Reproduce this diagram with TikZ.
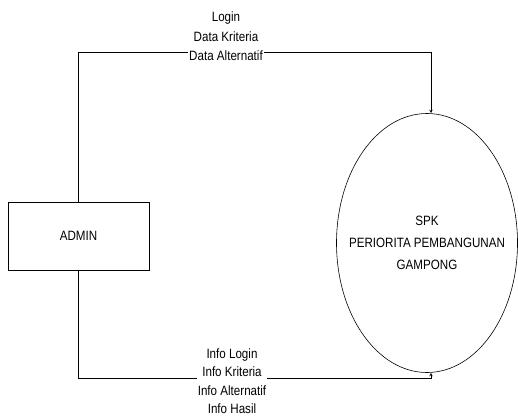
\documentclass[tikz,border=0pt]{standalone}
\usepackage{fontspec}
\setmainfont[FakeStretch=0.86]{Liberation Sans}
\usetikzlibrary{shapes.geometric, arrows}
\tikzstyle{entity} = [
    rectangle,
    minimum width=141pt,
    minimum height=68pt,
    draw=black
]
\tikzstyle{process} = [
    ellipse,
    minimum width=181pt,
    minimum height=259pt,
    inner sep=0pt,
    draw=black
]
\tikzstyle{flowlabel} = [
    fill=white,
    align=center,
    inner sep=1pt,
    font=\fontsize{13.5}{19.5}\selectfont
]
\tikzstyle{arrow} = [->,>=stealth]

\begin{document}
\begin{tikzpicture}[x=1pt, y=-1pt, line width=0.6pt, font=\fontsize{13.5}{15}\selectfont]
\useasboundingbox (0,0) rectangle (518,418);

\node (admin) [entity] at (78.5,236) {ADMIN};

\node (spk) [process] at (427,243) {};
\node (spktext) [align=center, font=\fontsize{13.5}{22}\selectfont] at (spk.center)
{SPK\\PERIORITA PEMBANGUNAN\\GAMPONG};

\coordinate (topcorner) at (431,52);
\coordinate (botcorner) at (431,378);

\draw [arrow] (admin.north) |- (topcorner) -- (topcorner |- spk.north);
\draw [arrow] (admin.south) |- (botcorner) -- (botcorner |- spk.south);

\node (inlabel) [flowlabel] at (226,36.5)
{Login\\Data Kriteria\\Data Alternatif};
\node (outlabel) [flowlabel, font=\fontsize{13.5}{18.5}\selectfont] at (232,381)
{Info Login\\Info Kriteria\\Info Alternatif\\Info Hasil};

\end{tikzpicture}
\end{document}
